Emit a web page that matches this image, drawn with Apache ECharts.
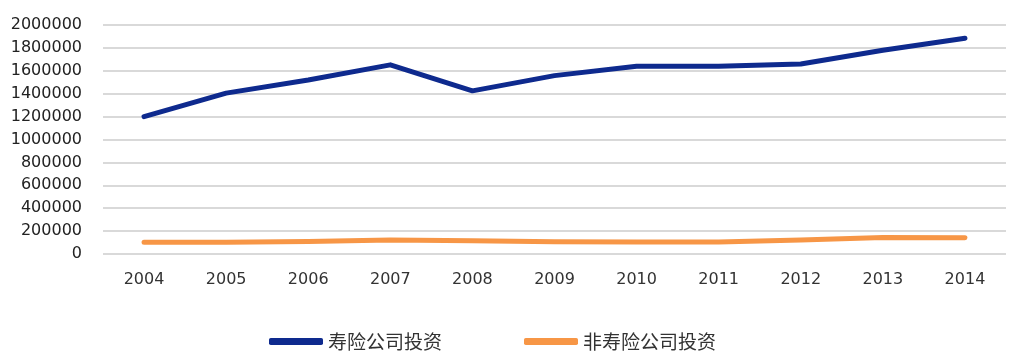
<!DOCTYPE html>
<html><head><meta charset="utf-8">
<script src="https://cdn.jsdelivr.net/npm/echarts@6/dist/echarts.min.js"></script>
<style>html,body{margin:0;padding:0;background:#fff}#c{width:1020px;height:355px}</style>
</head><body><div id="c"></div>
<script>
const years = ['2004','2005','2006','2007','2008','2009','2010','2011','2012','2013','2014'];
const lifeInvest = [1200000,1405000,1520000,1652000,1425000,1558000,1640000,1640000,1660000,1780000,1885000];
const nonLifeInvest = [102000,102000,110000,122000,116000,108000,105000,105000,122000,145000,143000];
const seriesNames = ['寿险公司投资','非寿险公司投资'];
const colors = ['#0E2A8E','#F79646'];

const chart = echarts.init(document.getElementById('c'));
chart.setOption({
  animation:false,
  backgroundColor:'#fff',
  grid:{left:103,right:14,top:25,bottom:101},
  legend:{
    left:264,top:327,itemGap:82,itemWidth:54,itemHeight:7,icon:'roundRect',
    textStyle:{fontFamily:'Noto Sans CJK SC',fontSize:19,color:'#333'},
    data:seriesNames
  },
  xAxis:{
    type:'category',data:years,boundaryGap:true,
    axisLine:{show:false},axisTick:{show:false},
    axisLabel:{margin:18,fontFamily:'DejaVu Sans',fontSize:16,color:'#333'}
  },
  yAxis:{
    type:'value',min:0,max:2000000,interval:200000,
    axisLine:{show:false},axisTick:{show:false},
    axisLabel:{margin:21,fontFamily:'DejaVu Sans',fontSize:16,color:'#222',formatter:v=>String(v)},
    splitLine:{lineStyle:{color:'#D9D9D9',width:2}}
  },
  series:[
    {name:seriesNames[0],type:'line',data:lifeInvest,symbol:'none',color:colors[0],
     lineStyle:{width:5,color:colors[0],cap:'round',join:'round'}},
    {name:seriesNames[1],type:'line',data:nonLifeInvest,symbol:'none',color:colors[1],
     lineStyle:{width:5,color:colors[1],cap:'round',join:'round'}}
  ]
});
</script></body></html>
